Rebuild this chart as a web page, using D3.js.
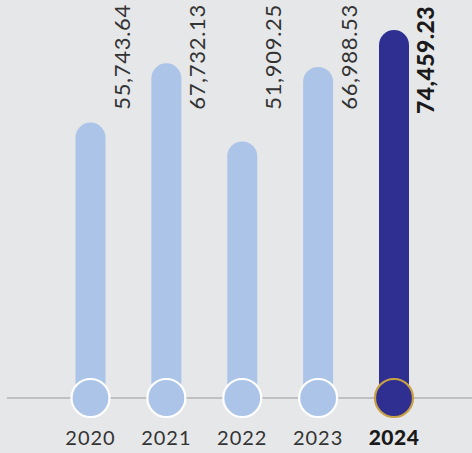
<!DOCTYPE html>
<html><head><meta charset="utf-8">
<script src="https://cdn.jsdelivr.net/npm/d3@7"></script>
<style>html,body{margin:0;padding:0;background:#e6e7e9;}svg{display:block;}</style>
</head><body>
<svg id="c" width="472" height="453"></svg>
<script>
const years = ["2020","2021","2022","2023","2024"];
const values = [55743.64, 67732.13, 51909.25, 66988.53, 74459.23];
const labels = ["55,743.64","67,732.13","51,909.25","66,988.53","74,459.23"];
const highlight = "2024";

const svg = d3.select("#c");
const W = 472, H = 453, baseY = 398;
const x = d3.scalePoint().domain(years).range([90.5, 394]);
const y = d3.scaleLinear().domain([0, 74459.23]).range([baseY, 30]);
const bw = 30;
const light = "#abc4e8", dark = "#2e2f91";

svg.append("rect").attr("width", W).attr("height", H).attr("fill", "#e6e7e9");
svg.append("line").attr("x1", 7).attr("x2", W).attr("y1", baseY).attr("y2", baseY)
  .attr("stroke", "#9a9a9a").attr("stroke-width", 1.2);

const cx = d => x(d);

const g = svg.selectAll("g.bar").data(years).enter().append("g");
g.append("rect")
  .attr("x", d => cx(d) - bw / 2)
  .attr("y", (d, i) => y(values[i]))
  .attr("width", bw)
  .attr("height", (d, i) => baseY - y(values[i]))
  .attr("rx", bw / 2)
  .attr("fill", d => d === highlight ? dark : light);
g.append("circle")
  .attr("cx", cx).attr("cy", baseY).attr("r", 19)
  .attr("fill", d => d === highlight ? dark : light)
  .attr("stroke", d => d === highlight ? "#c9a043" : "#ffffff")
  .attr("stroke-width", 2.2);
g.append("text")
  .attr("transform", d => d === highlight ? `translate(${cx(d) + 39.5},6) rotate(-90)` : `translate(${cx(d) + 39},4) rotate(-90)`)
  .attr("text-anchor", "end")
  .attr("font-family", "Lato, sans-serif")
  .attr("font-size", d => d === highlight ? 23 : 22)
  .attr("letter-spacing", d => d === highlight ? 0.4 : 0.7)
  .attr("font-weight", d => d === highlight ? 900 : 400)
  .attr("fill", d => d === highlight ? "#1a1a1a" : "#333")
  .text((d, i) => labels[i]);
g.append("text")
  .attr("x", cx).attr("y", 445)
  .attr("text-anchor", "middle")
  .attr("font-family", "Lato, sans-serif")
  .attr("font-size", d => d === highlight ? 21 : 20)
  .attr("letter-spacing", d => d === highlight ? 0.5 : 1)
  .attr("font-weight", d => d === highlight ? 900 : 400)
  .attr("fill", d => d === highlight ? "#1a1a1a" : "#333")
  .text(d => d);
</script>
</body></html>
